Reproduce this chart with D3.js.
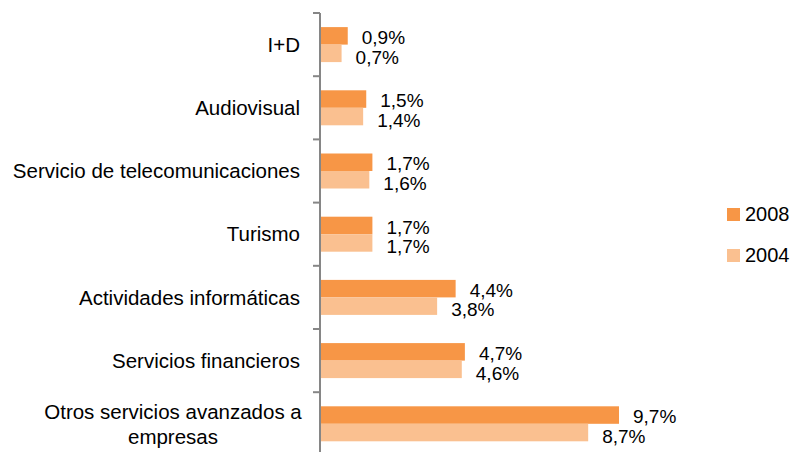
<!DOCTYPE html>
<html>
<head>
<meta charset="utf-8">
<script src="https://cdn.jsdelivr.net/npm/d3@7"></script>
<style>
  body { margin: 0; background: #fff; }
  text { font-family: "Liberation Sans", Arial, sans-serif; fill: #000; }
</style>
</head>
<body>
<div id="chart"></div>
<script>
// data
var categories = ["I+D", "Audiovisual", "Servicio de telecomunicaciones", "Turismo",
                  "Actividades informáticas", "Servicios financieros",
                  "Otros servicios avanzados a|empresas"];
var series = ["2008", "2004"];
var values2008 = [0.9, 1.5, 1.7, 1.7, 4.4, 4.7, 9.7];
var values2004 = [0.7, 1.4, 1.6, 1.7, 3.8, 4.6, 8.7];
var colors = ["#F79646", "#FAC090"];

var width = 795, height = 452;
var margin = {top: 13, left: 320};

var svg = d3.select("#chart").append("svg")
    .attr("width", width)
    .attr("height", height);

// scales
var y = d3.scaleBand()
    .domain(categories)
    .range([margin.top, margin.top + 63.2 * categories.length]);

var x = d3.scaleLinear()
    .domain([0, 9.7])
    .range([margin.left, 619]);

var sub = d3.scaleBand()
    .domain(series)
    .range([0, 35])
    .paddingInner(0);

// axis line with ticks at band borders
var axis = svg.append("g");
axis.append("line")
    .attr("x1", margin.left).attr("x2", margin.left)
    .attr("y1", y.range()[0]).attr("y2", y.range()[1])
    .attr("stroke", "#868686").attr("stroke-width", 2);
var borders = categories.map(function(c) { return y(c); });
axis.selectAll(".tk").data(borders).enter().append("line")
    .attr("x1", margin.left - 7).attr("x2", margin.left)
    .attr("y1", function(d) { return d; }).attr("y2", function(d) { return d; })
    .attr("stroke", "#868686").attr("stroke-width", 2);

// category labels
categories.forEach(function(c) {
  var lines = c.split("|");
  var cy = y(c) + y.bandwidth() / 2;
  if (lines.length === 1) {
    svg.append("text")
      .attr("x", 300).attr("y", cy)
      .attr("dy", "0.35em")
      .attr("text-anchor", "end")
      .style("font-size", "20.5px")
      .text(c);
  } else {
    var t = svg.append("text")
      .attr("text-anchor", "middle")
      .style("font-size", "20.5px");
    lines.forEach(function(l, i) {
      t.append("tspan")
        .attr("x", 173)
        .attr("y", cy + 1 + (i - (lines.length - 1) / 2) * 25)
        .attr("dy", "0.35em")
        .text(l);
    });
  }
});

// bars
var data = [values2008, values2004];
data.forEach(function(vals, si) {
  var g = svg.append("g");
  var bandOff = function(c) { return y(c) + y.bandwidth() / 2 - 17.5 + sub(series[si]); };
  g.selectAll("rect").data(vals).enter().append("rect")
    .attr("x", x(0) + 1)
    .attr("y", function(d, i) { return bandOff(categories[i]); })
    .attr("width", function(d) { return x(d) - x(0) - 1; })
    .attr("height", sub.bandwidth())
    .attr("fill", colors[si]);
  g.selectAll("text").data(vals).enter().append("text")
    .attr("x", function(d) { return x(d) + 14; })
    .attr("y", function(d, i) { return bandOff(categories[i]) + sub.bandwidth() / 2 + (si === 0 ? 1.5 : 3.5); })
    .attr("dy", "0.35em")
    .style("font-size", "19px")
    .text(function(d) { return d3.format(".1f")(d).replace(".", ",") + "%"; });
});

// legend
var legend = svg.append("g");
series.forEach(function(s, i) {
  var ly = 214 + i * 41;
  legend.append("rect")
    .attr("x", 727).attr("y", ly - 6)
    .attr("width", 13).attr("height", 13)
    .attr("fill", colors[i]);
  legend.append("text")
    .attr("x", 745).attr("y", ly)
    .attr("dy", "0.35em")
    .style("font-size", "20px")
    .text(s);
});
</script>
</body>
</html>
